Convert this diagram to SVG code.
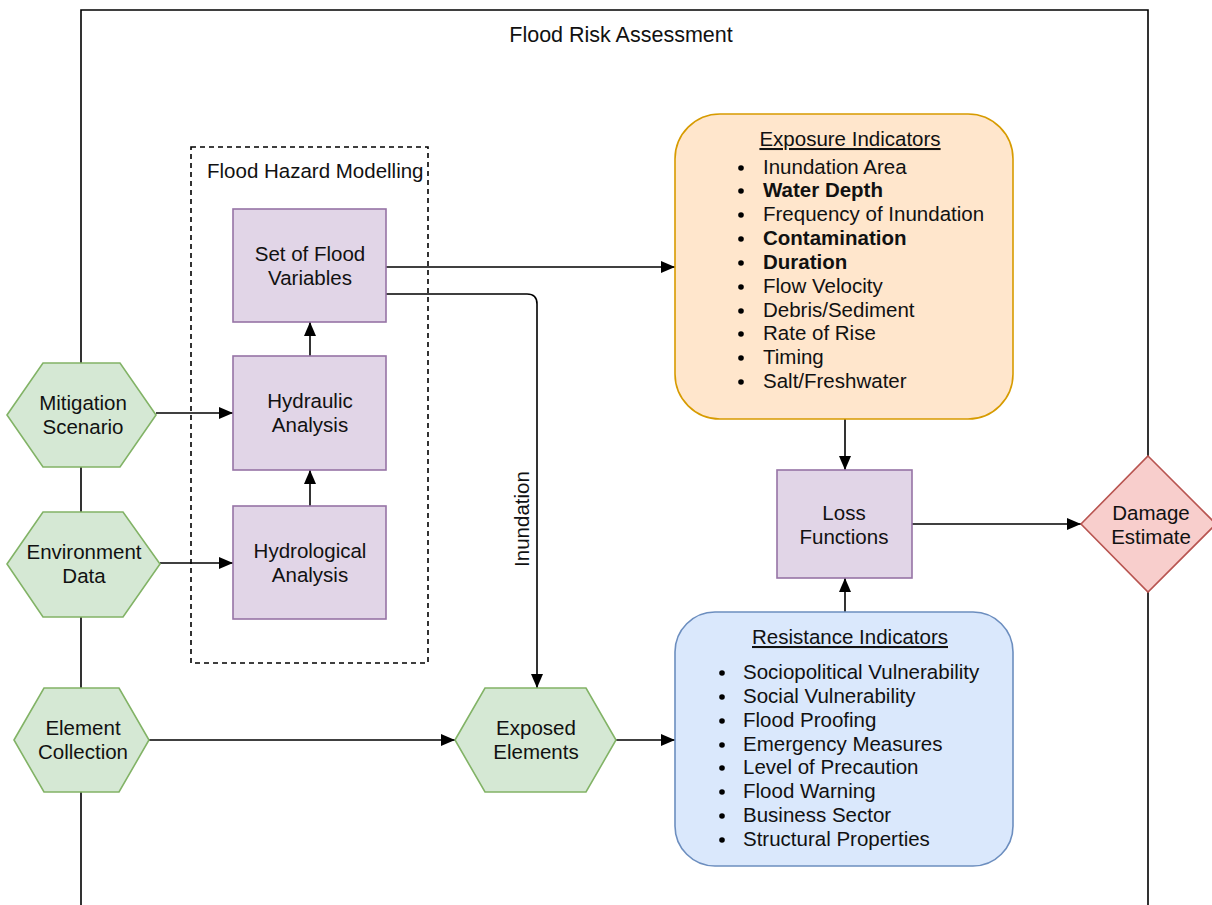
<svg xmlns="http://www.w3.org/2000/svg" width="1212" height="905" viewBox="0 0 1212 905">
  <style>
    text { font-family: "Liberation Sans", Arial, Helvetica, sans-serif; font-size: 20.5px; fill: #111; }
    .c { text-anchor: middle; }
    .b { font-weight: bold; }
    .u { text-decoration: underline; }
    .proc { fill: #e1d5e7; stroke: #9673a6; stroke-width: 1.6; }
    .hex { fill: #d5e8d4; stroke: #82b366; stroke-width: 1.6; }
    .edge { fill: none; stroke: #000; stroke-width: 1.6; }
    .dot { fill: #000; }
  </style>
  <defs>
    <marker id="arrow" markerUnits="userSpaceOnUse" markerWidth="14" markerHeight="12" refX="14" refY="6" orient="auto">
      <path d="M0,0 L14,6 L0,12 Z" fill="#000"/>
    </marker>
  </defs>

  <rect width="1212" height="905" fill="#fff"/>

  <!-- outer assessment frame (open at the bottom edge) -->
  <g id="frame">
    <path d="M81,905 V10 H1148 V905" fill="none" stroke="#000" stroke-width="1.6"/>
    <text class="c" x="621" y="42" style="font-size:21.5px">Flood Risk Assessment</text>
  </g>

  <!-- hazard modelling group -->
  <g id="hazard-group">
    <rect x="191" y="147" width="237" height="516" fill="none" stroke="#000" stroke-width="1.6" stroke-dasharray="5,4"/>
    <text x="207" y="178">Flood Hazard Modelling</text>
  </g>

  <g id="connectors">
    <line class="edge" x1="310" y1="506" x2="310" y2="470" marker-end="url(#arrow)"/>
    <line class="edge" x1="310" y1="356" x2="310" y2="322" marker-end="url(#arrow)"/>
    <line class="edge" x1="156" y1="413" x2="233" y2="413" marker-end="url(#arrow)"/>
    <line class="edge" x1="160" y1="563" x2="233" y2="563" marker-end="url(#arrow)"/>
    <line class="edge" x1="149" y1="740" x2="455" y2="740" marker-end="url(#arrow)"/>
    <line class="edge" x1="386" y1="267" x2="675" y2="267" marker-end="url(#arrow)"/>
    <path class="edge" d="M386,294 H527 Q537,294 537,304 V688" marker-end="url(#arrow)"/>
    <text class="c" transform="translate(521,519) rotate(-90)" dominant-baseline="central">Inundation</text>
    <line class="edge" x1="616" y1="740" x2="675" y2="740" marker-end="url(#arrow)"/>
    <line class="edge" x1="845" y1="419" x2="845" y2="470" marker-end="url(#arrow)"/>
    <line class="edge" x1="845" y1="612" x2="845" y2="578" marker-end="url(#arrow)"/>
    <line class="edge" x1="912" y1="524" x2="1081" y2="524" marker-end="url(#arrow)"/>
  </g>

  <g id="mitigation-scenario">
    <polygon class="hex" points="7,415 43,363 120,363 156,415 120,467 43,467"/>
    <text class="c" x="83" y="410">Mitigation</text>
    <text class="c" x="83" y="434">Scenario</text>
  </g>

  <g id="environment-data">
    <polygon class="hex" points="7,564 43,512 123,512 160,564 123,617 43,617"/>
    <text class="c" x="84" y="559">Environment</text>
    <text class="c" x="84" y="583">Data</text>
  </g>

  <g id="element-collection">
    <polygon class="hex" points="14,740 44,688 119,688 149,740 119,792 44,792"/>
    <text class="c" x="83" y="735">Element</text>
    <text class="c" x="83" y="759">Collection</text>
  </g>

  <g id="flood-variables">
    <rect class="proc" x="233" y="209" width="153" height="113"/>
    <text class="c" x="310" y="261">Set of Flood</text>
    <text class="c" x="310" y="285">Variables</text>
  </g>

  <g id="hydraulic-analysis">
    <rect class="proc" x="233" y="356" width="153" height="114"/>
    <text class="c" x="310" y="408">Hydraulic</text>
    <text class="c" x="310" y="432">Analysis</text>
  </g>

  <g id="hydrological-analysis">
    <rect class="proc" x="233" y="506" width="153" height="113"/>
    <text class="c" x="310" y="558">Hydrological</text>
    <text class="c" x="310" y="582">Analysis</text>
  </g>

  <g id="exposed-elements">
    <polygon class="hex" points="455,740 485,688 586,688 616,740 586,792 485,792"/>
    <text class="c" x="536" y="735">Exposed</text>
    <text class="c" x="536" y="759">Elements</text>
  </g>

  <g id="exposure-indicators">
    <rect x="675" y="114" width="338" height="305" rx="45" ry="45" fill="#ffe6cc" stroke="#d79b00" stroke-width="1.6"/>
    <text class="c u" x="850" y="146">Exposure Indicators</text>
    <g class="dot">
      <circle cx="741" cy="168" r="2.8"/>
      <circle cx="741" cy="191" r="2.8"/>
      <circle cx="741" cy="215" r="2.8"/>
      <circle cx="741" cy="239" r="2.8"/>
      <circle cx="741" cy="263" r="2.8"/>
      <circle cx="741" cy="287" r="2.8"/>
      <circle cx="741" cy="311" r="2.8"/>
      <circle cx="741" cy="334" r="2.8"/>
      <circle cx="741" cy="358" r="2.8"/>
      <circle cx="741" cy="382" r="2.8"/>
    </g>
    <text x="763" y="174">Inundation Area</text>
    <text class="b" x="763" y="197">Water Depth</text>
    <text x="763" y="221">Frequency of Inundation</text>
    <text class="b" x="763" y="245">Contamination</text>
    <text class="b" x="763" y="269">Duration</text>
    <text x="763" y="293">Flow Velocity</text>
    <text x="763" y="317">Debris/Sediment</text>
    <text x="763" y="340">Rate of Rise</text>
    <text x="763" y="364">Timing</text>
    <text x="763" y="388">Salt/Freshwater</text>
  </g>

  <g id="loss-functions">
    <rect class="proc" x="777" y="470" width="135" height="108"/>
    <text class="c" x="844" y="520">Loss</text>
    <text class="c" x="844" y="544">Functions</text>
  </g>

  <g id="damage-estimate">
    <polygon points="1148,456 1216,524 1148,592 1081,524" fill="#f8cecc" stroke="#b85450" stroke-width="1.6"/>
    <text class="c" x="1151" y="520">Damage</text>
    <text class="c" x="1151" y="544">Estimate</text>
  </g>

  <g id="resistance-indicators">
    <rect x="675" y="612" width="338" height="254" rx="40" ry="40" fill="#dae8fc" stroke="#6c8ebf" stroke-width="1.6"/>
    <text class="c u" x="850" y="644">Resistance Indicators</text>
    <g class="dot">
      <circle cx="722" cy="673" r="2.8"/>
      <circle cx="722" cy="697" r="2.8"/>
      <circle cx="722" cy="721" r="2.8"/>
      <circle cx="722" cy="745" r="2.8"/>
      <circle cx="722" cy="768" r="2.8"/>
      <circle cx="722" cy="792" r="2.8"/>
      <circle cx="722" cy="816" r="2.8"/>
      <circle cx="722" cy="840" r="2.8"/>
    </g>
    <text x="743" y="679">Sociopolitical Vulnerability</text>
    <text x="743" y="703">Social Vulnerability</text>
    <text x="743" y="727">Flood Proofing</text>
    <text x="743" y="751">Emergency Measures</text>
    <text x="743" y="774">Level of Precaution</text>
    <text x="743" y="798">Flood Warning</text>
    <text x="743" y="822">Business Sector</text>
    <text x="743" y="846">Structural Properties</text>
  </g>
</svg>
